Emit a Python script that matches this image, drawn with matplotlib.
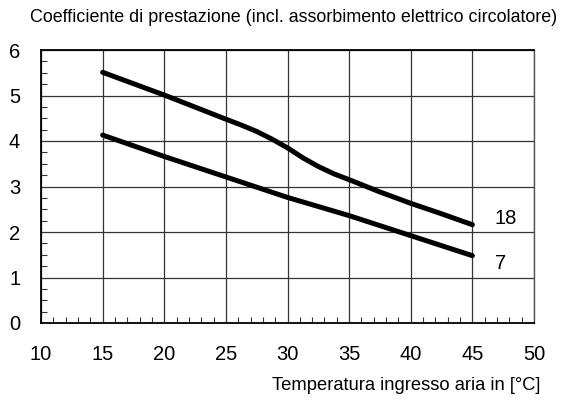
import matplotlib.pyplot as plt
from matplotlib.ticker import MultipleLocator

plt.rcParams['font.family'] = ['Liberation Sans', 'DejaVu Sans']

# curve: air inlet temperature vs COP
temp_18 = [15, 20, 25, 26.25, 27.5, 28.75, 30, 31.25, 32.5, 33.75, 35, 37.5, 40, 42.5, 45]
cop_18 = [5.51, 5.01, 4.48, 4.35, 4.21, 4.04, 3.85, 3.63, 3.44, 3.28, 3.15, 2.88, 2.63, 2.40, 2.16]

temp_7 = [15, 20, 25, 30, 35, 40, 45]
cop_7 = [4.13, 3.66, 3.21, 2.76, 2.36, 1.92, 1.48]

x_ticks = [10, 15, 20, 25, 30, 35, 40, 45, 50]
y_ticks = [0, 1, 2, 3, 4, 5, 6]

fig = plt.figure(figsize=(5.77, 4.03), dpi=100)
ax = fig.add_axes([41/577, 1 - 323/403, (534 - 41)/577, (323 - 50)/403])

ax.plot(temp_18, cop_18, color='black', lw=3.6, solid_capstyle='round', solid_joinstyle='round')
ax.plot(temp_7, cop_7, color='black', lw=3.6, solid_capstyle='round', solid_joinstyle='round')

ax.text(46.8, 2.30, '18', fontsize=14.5, ha='left', va='center')
ax.text(46.8, 1.30, '7', fontsize=14.5, ha='left', va='center')

ax.set_xlim(10, 50)
ax.set_ylim(0, 6)
ax.set_xticks(x_ticks)
ax.set_yticks(y_ticks)
ax.xaxis.set_minor_locator(MultipleLocator(1))
ax.yaxis.set_minor_locator(MultipleLocator(0.25))
ax.tick_params(which='major', length=0, labelsize=14.5)
ax.tick_params(axis='x', which='major', pad=16)
ax.tick_params(axis='y', which='major', pad=15)
ax.tick_params(which='minor', direction='in', length=4, width=0.8, color='#333333')
ax.tick_params(which='minor', top=False, right=False)

ax.grid(True, which='major', color='#333333', lw=0.9)
for side in ['left', 'bottom', 'top']:
    ax.spines[side].set_linewidth(1.3)
ax.spines['right'].set_linewidth(1.0)
ax.spines['right'].set_color('#555555')

fig.text(30/577, 1 - 18/403, 'Coefficiente di prestazione (incl. assorbimento elettrico circolatore)',
         fontsize=12.9, ha='left', va='center')
fig.text(540/577, 1 - 386/403, 'Temperatura ingresso aria in [°C]',
         fontsize=13.2, ha='right', va='center')

fig.savefig('out.png', dpi=100)
